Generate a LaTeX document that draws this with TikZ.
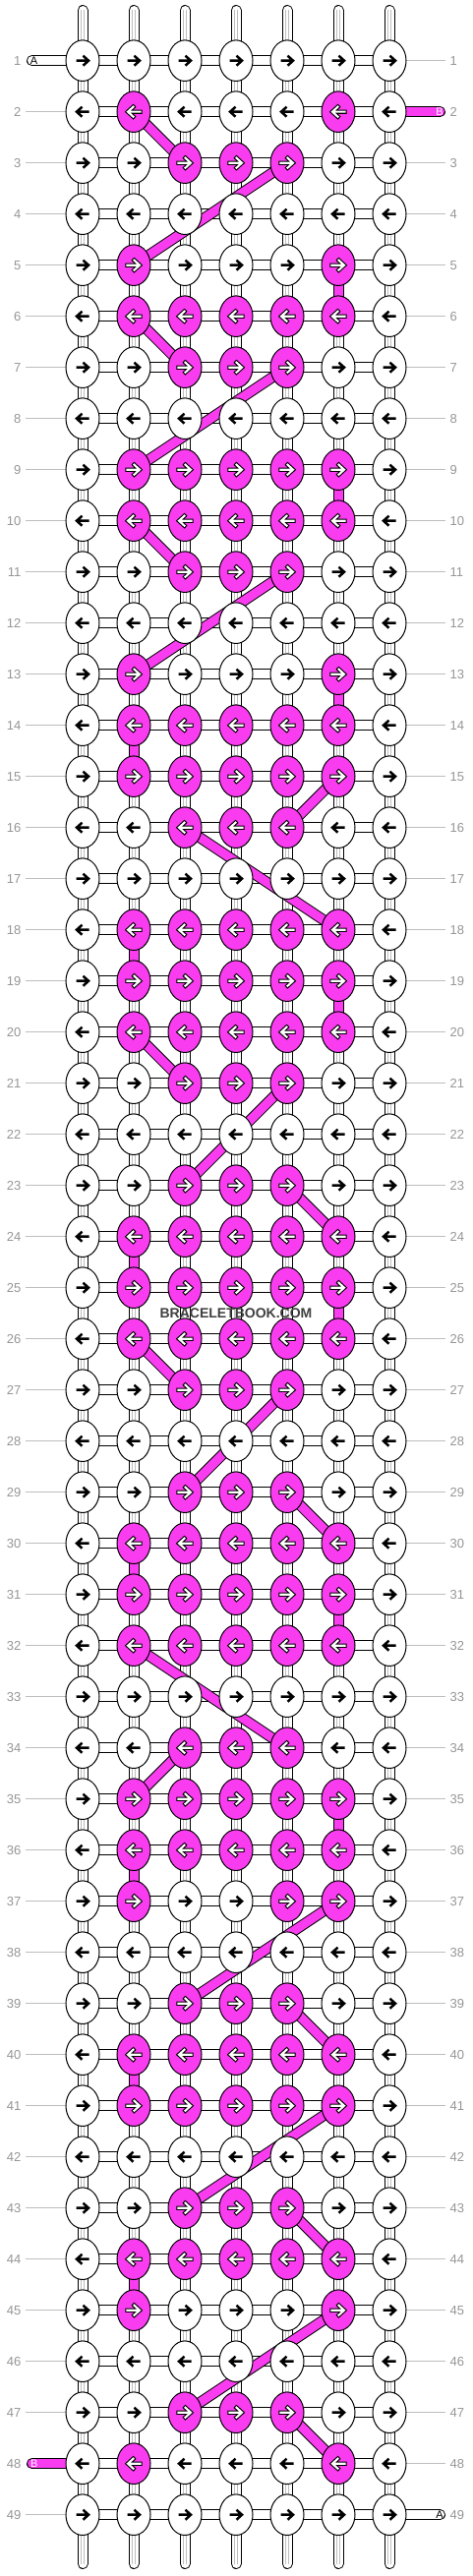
\documentclass[tikz,border=0pt]{standalone}
\usepackage{fontspec}
\setmainfont{Liberation Sans}
\usetikzlibrary{shapes.geometric}
\definecolor{pinkk}{RGB}{250,60,240}
\definecolor{lblgray}{RGB}{150,150,150}
\definecolor{linegray}{RGB}{190,190,190}
\pgfdeclarelayer{bg}
\pgfsetlayers{bg,main}
\newcommand\setpink[2]{\foreach \cc in {#2}{\expandafter\gdef\csname pk-#1-\cc\endcsname{1}}}
\setpink{2}{2,6}
\setpink{3}{3,4,5}
\setpink{5}{2,6}
\setpink{6}{2,3,4,5,6}
\setpink{7}{3,4,5}
\setpink{9}{2,3,4,5,6}
\setpink{10}{2,3,4,5,6}
\setpink{11}{3,4,5}
\setpink{13}{2,6}
\setpink{14}{2,3,4,5,6}
\setpink{15}{2,3,4,5,6}
\setpink{16}{3,4,5}
\setpink{18}{2,3,4,5,6}
\setpink{19}{2,3,4,5,6}
\setpink{20}{2,3,4,5,6}
\setpink{21}{3,4,5}
\setpink{23}{3,4,5}
\setpink{24}{2,3,4,5,6}
\setpink{25}{2,3,4,5,6}
\setpink{26}{2,3,4,5,6}
\setpink{27}{3,4,5}
\setpink{29}{3,4,5}
\setpink{30}{2,3,4,5,6}
\setpink{31}{2,3,4,5,6}
\setpink{32}{2,3,4,5,6}
\setpink{34}{3,4,5}
\setpink{35}{2,3,4,5,6}
\setpink{36}{2,3,4,5,6}
\setpink{37}{2,5,6}
\setpink{39}{3,4,5}
\setpink{40}{2,3,4,5,6}
\setpink{41}{2,3,4,5,6}
\setpink{43}{3,4,5}
\setpink{44}{2,3,4,5,6}
\setpink{45}{2,6}
\setpink{47}{3,4,5}
\setpink{48}{2,6}
\newcommand\drawarrow[1]{\draw[#1] ({\xx-6.5*\dd},\yy) -- ({\xx+5*\dd},\yy) ({\xx+0.5*\dd},{\yy-5}) -- ({\xx+6*\dd},\yy) -- ({\xx+0.5*\dd},{\yy+5});}
\begin{document}
\begin{tikzpicture}[x=1pt,y=-1pt,
  knot/.style={ellipse, draw=black, line width=1pt, minimum width=34pt, minimum height=41.6pt, inner sep=0pt},
  conn/.style={draw=black, line width=1pt, double=white, double distance=9pt},
  pconn/.style={draw=black, line width=1pt, double=pinkk, double distance=9pt},
  vgray/.style={draw=linegray, line width=0.5pt, double=white, double distance=2.9pt},
  lbl/.style={draw=linegray, line width=1pt},
  lnum/.style={text=lblgray, font=\fontsize{13}{13}\selectfont, inner sep=0pt},
  stubtxt/.style={font=\fontsize{11}{11}\selectfont, inner sep=0pt},
  arrowblk/.style={draw=black, line width=2.5pt, line join=miter},
  arrowout/.style={draw=black, line width=4.3pt, line cap=rect, line join=miter},
  arrowin/.style={draw=white, line width=2.1pt, line cap=rect, line join=miter}
]
\begin{pgfonlayer}{bg}
\fill[white] (0,0) rectangle (480,2620);
\end{pgfonlayer}
\useasboundingbox (0,0) rectangle (480,2620);
% knots
\foreach \rr in {1,...,49}{
  \foreach \cc in {1,...,7}{
    \pgfmathsetmacro\xx{32+52*\cc}
    \pgfmathsetmacro\yy{9.7+52*\rr}
    \pgfmathtruncatemacro\dd{1-2*mod(\rr+1,2)}
    \ifcsname pk-\rr-\cc\endcsname
      \node[knot, fill=pinkk] (n-\rr-\cc) at (\xx,\yy) {};
      \drawarrow{arrowout}
      \drawarrow{arrowin}
    \else
      \node[knot, fill=white] (n-\rr-\cc) at (\xx,\yy) {};
      \drawarrow{arrowblk}
    \fi
  }
}
% row numbers
\foreach \rr in {1,...,49}{
  \pgfmathsetmacro\yy{9.7+52*\rr}
  \node[lnum, anchor=east] (L-\rr) at (21.5,\yy) {\rr};
  \node[lnum, anchor=west] (R-\rr) at (457.5,\yy) {\rr};
}
\begin{pgfonlayer}{bg}
  % horizontal connectors
  \foreach \rr in {1,...,49}{
    \foreach \cc in {1,...,6}{
      \pgfmathtruncatemacro\cn{\cc+1}
      \draw[conn] (n-\rr-\cc.center) -- (n-\rr-\cn.center);
    }
  }
  % vertical connectors
  \foreach \rr in {1,...,48}{
    \pgfmathtruncatemacro\rn{\rr+1}
    \foreach \cc in {1,...,7}{
      \draw[conn] (n-\rr-\cc.center) -- (n-\rn-\cc.center);
      \draw[vgray] (n-\rr-\cc.center) -- (n-\rn-\cc.center);
    }
  }
  % thread ends top and bottom
  \foreach \cc in {1,...,7}{
    \pgfmathsetmacro\xx{32+52*\cc}
    \coordinate (t-\cc) at (\xx,10.5);
    \coordinate (b-\cc) at (\xx,2607.5);
    \draw[conn, line cap=round] (t-\cc) -- (n-1-\cc.center);
    \draw[vgray] (t-\cc) -- (n-1-\cc.center);
    \draw[conn, line cap=round] (b-\cc) -- (n-49-\cc.center);
    \draw[vgray] (b-\cc) -- (n-49-\cc.center);
  }
  % row label lines
  \foreach \rr in {2,...,47,49}{
    \pgfmathsetmacro\yy{9.7+52*\rr}
    \coordinate (ll-\rr) at (26,\yy);
    \draw[lbl] (ll-\rr) -- (n-\rr-1.center);
  }
  \foreach \rr in {1,3,4,...,48}{
    \pgfmathsetmacro\yy{9.7+52*\rr}
    \coordinate (rl-\rr) at (453,\yy);
    \draw[lbl] (n-\rr-7.center) -- (rl-\rr);
  }
  % loose thread stubs A and B
  \coordinate (aL) at (32.5,61.7);
  \coordinate (bR) at (447.5,113.7);
  \coordinate (bL) at (32.5,2505.7);
  \coordinate (aR) at (447.5,2557.7);
  \draw[conn, line cap=round] (aL) -- (n-1-1.center);
  \draw[pconn, line cap=round] (bR) -- (n-2-7.center);
  \draw[pconn, line cap=round] (bL) -- (n-48-1.center);
  \draw[conn, line cap=round] (aR) -- (n-49-7.center);
  % pink thread path
  \foreach \ra/\ca/\rb/\cb in {
    2/2/3/3, 3/5/5/2, 5/6/6/6, 6/2/7/3, 7/5/9/2, 9/6/10/6, 10/2/11/3, 11/5/13/2,
    13/6/14/6, 14/2/15/2, 15/6/16/5, 16/3/18/6, 18/2/19/2, 19/6/20/6, 20/2/21/3,
    21/5/23/3, 23/5/24/6, 24/2/25/2, 25/6/26/6, 26/2/27/3, 27/5/29/3, 29/5/30/6,
    30/2/31/2, 31/6/32/6, 32/2/34/5, 34/3/35/2, 35/6/36/6, 36/2/37/2, 37/6/39/3,
    39/5/40/6, 40/2/41/2, 41/6/43/3, 43/5/44/6, 44/2/45/2, 45/6/47/3, 47/5/48/6}{
    \draw[pconn] (n-\ra-\ca.center) -- (n-\rb-\cb.center);
  }
\end{pgfonlayer}
\node[stubtxt, text=black] (txtA1) at (34.5,61.7) {A};
\node[stubtxt, text=white] (txtB1) at (447,113.7) {B};
\node[stubtxt, text=white] (txtB2) at (34.7,2505.7) {B};
\node[stubtxt, text=black] (txtA2) at (447,2557.7) {A};
\node[font=\bfseries\fontsize{14}{14}\selectfont, text=black!75, inner sep=0pt] (wm) at (240,1336) {BRACELETBOOK.COM};
\end{tikzpicture}
\end{document}
